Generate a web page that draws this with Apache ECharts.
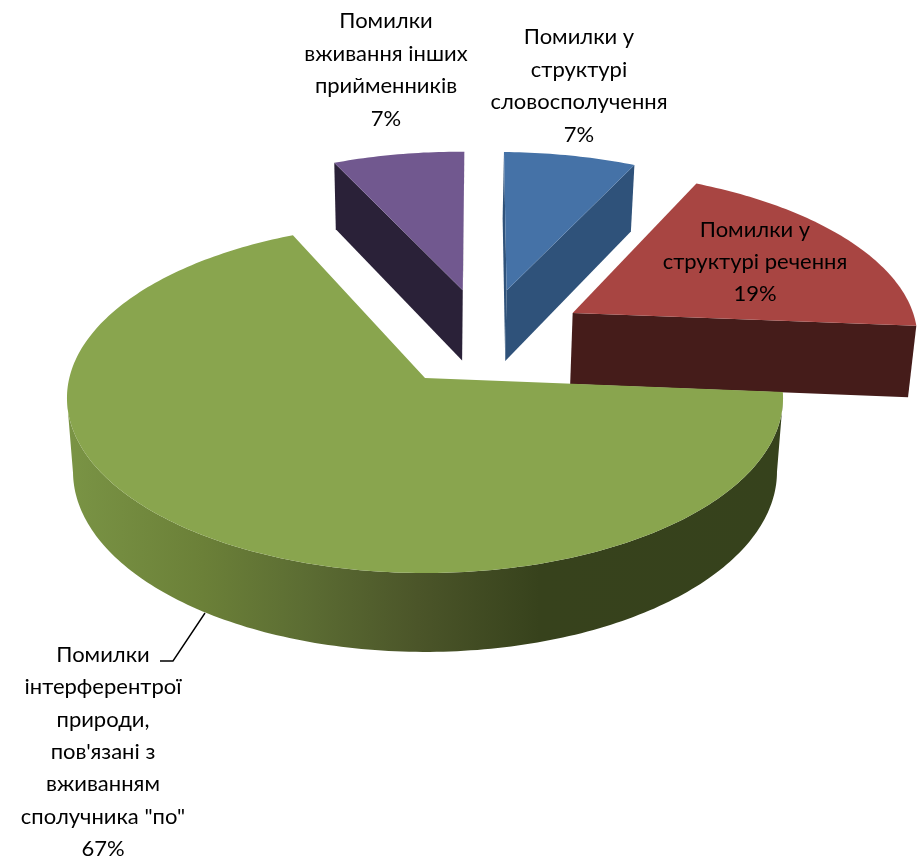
<!DOCTYPE html>
<html>
<head>
<meta charset="utf-8">
<style>html,body{margin:0;padding:0;background:#fff}#c{width:917px;height:864px}</style>
<script src="https://cdn.jsdelivr.net/npm/echarts@6/dist/echarts.min.js"></script>
</head>
<body>
<div id="c"></div>
<script>
// Data, in the pie's clockwise order
var categories = [
  'Помилки у\nструктурі\nсловосполучення',
  'Помилки у\nструктурі речення',
  'Помилки\nінтерферентрої\nприроди,\nпов\'язані з\nвживанням\nсполучника "по"',
  'Помилки\nвживання інших\nприйменників'
];
var values = [7, 19, 67, 7];

// Styling
var topColors = ['#4572a7', '#a84542', '#89a54e', '#71588f'];
var sideColors = ['#2f527a', '#451c1a', null, '#2a2138'];
var greenRimStops = [
  [0, '#7a9445'], [0.19, '#6b8038'], [0.33, '#5c6d33'], [0.49, '#4b5529'], [0.66, '#37421c'], [1, '#36421c']
];
var labelCenters = [[579, 86], [755, 262], [103, 752], [386, 70]];

// Projection of the pie plane (origin = apex of the reference slice)
var P = { p: 0.114, x0: 425, y0: 378, A: 172.8, B: 355.7, yb: 451, A2: 178, B2: 349.7 };
var START_DEG = -89, EXPLODE = 0.3, REF = 2;

function projTop(u, v) { var w = 1 - P.p * v; return [P.x0 + P.B * u / w, P.y0 + P.A * v / w]; }
function projBot(u, v) { var w = 1 - P.p * v; return [P.x0 + P.B2 * u / w, P.yb + P.A2 * v / w]; }

var total = values.reduce(function (a, b) { return a + b; }, 0);
var slices = (function () {
  var a = START_DEG, out = [];
  values.forEach(function (val) {
    var sweep = val / total * 360;
    out.push({ a0: a, a1: a + sweep, mid: a + sweep / 2 });
    a += sweep;
  });
  return out;
})();
function rad(d) { return d * Math.PI / 180; }
var refMid = rad(slices[REF].mid);

function buildSlice(i) {
  var s = slices[i], m = rad(s.mid);
  var ou = EXPLODE * (Math.cos(m) - Math.cos(refMid));
  var ov = EXPLODE * (Math.sin(m) - Math.sin(refMid));
  var n = Math.ceil(s.a1 - s.a0), arc = [];
  for (var k = 0; k <= n; k++) {
    var t = rad(s.a0 + (s.a1 - s.a0) * k / n);
    arc.push([ou + Math.cos(t), ov + Math.sin(t)]);
  }
  var apex = [ou, ov];
  var topPts = [apex].concat(arc).map(function (q) { return projTop(q[0], q[1]); });
  var children = [];
  var side = sideColors[i] || new echarts.graphic.LinearGradient(0, 0, 1, 0, greenRimStops.map(function (c) {
    return { offset: c[0], color: c[1] };
  }));

  function quad(a, b) {
    var pa = projTop(a[0], a[1]), pb = projTop(b[0], b[1]);
    if (pb[0] >= pa[0]) return; // only right-to-left edges of a clockwise outline face the viewer
    var qb = projBot(b[0], b[1]), qa = projBot(a[0], a[1]);
    children.push({ type: 'polygon', shape: { points: [pa, pb, qb, qa] },
      style: { fill: sideColors[i] || '#36421c', stroke: null } });
  }
  quad(apex, arc[0]);
  quad(arc[arc.length - 1], apex);

  // rim: runs of arc moving right-to-left
  var run = [];
  function flush() {
    if (run.length > 1) {
      var up = run.map(function (q) { return projTop(q[0], q[1]); });
      var dn = run.slice().reverse().map(function (q) { return projBot(q[0], q[1]); });
      children.push({ type: 'polygon', shape: { points: up.concat(dn) }, style: { fill: side } });
    }
    run = [];
  }
  for (var j = 0; j < arc.length - 1; j++) {
    var a = projTop(arc[j][0], arc[j][1]), b = projTop(arc[j + 1][0], arc[j + 1][1]);
    if (b[0] < a[0]) {
      if (!run.length) run.push(arc[j]);
      run.push(arc[j + 1]);
    } else flush();
  }
  flush();

  children.push({ type: 'polygon', shape: { points: topPts }, style: { fill: topColors[i] } });
  return children;
}

var chart = echarts.init(document.getElementById('c'), null, { renderer: 'canvas' });
var FONT = { fontFamily: 'Lato', fontSize: 22 };
chart.setOption({
  animation: false,
  backgroundColor: '#fff',
  series: [
    {
      type: 'custom',
      coordinateSystem: 'none',
      silent: true,
      data: values,
      renderItem: function (params) {
        return { type: 'group', children: buildSlice(params.dataIndex) };
      }
    },
    {
      type: 'custom',
      coordinateSystem: 'none',
      silent: true,
      z: 5,
      data: values,
      renderItem: function (params, api) {
        var i = params.dataIndex, c = labelCenters[i];
        var kids = [{
          type: 'text',
          style: {
            x: c[0], y: c[1],
            text: categories[i] + '\n' + api.value(0) + '%',
            fill: '#000',
            align: 'center',
            verticalAlign: 'middle',
            lineHeight: 32.4,
            fontFamily: FONT.fontFamily,
            fontSize: FONT.fontSize
          }
        }];
        if (i === REF) {
          kids.push({
            type: 'polyline',
            shape: { points: [[205, 613], [173, 661], [160, 661]] },
            style: { stroke: '#000', lineWidth: 1.4, fill: null }
          });
        }
        return { type: 'group', children: kids };
      }
    }
  ]
});
</script>
</body>
</html>
